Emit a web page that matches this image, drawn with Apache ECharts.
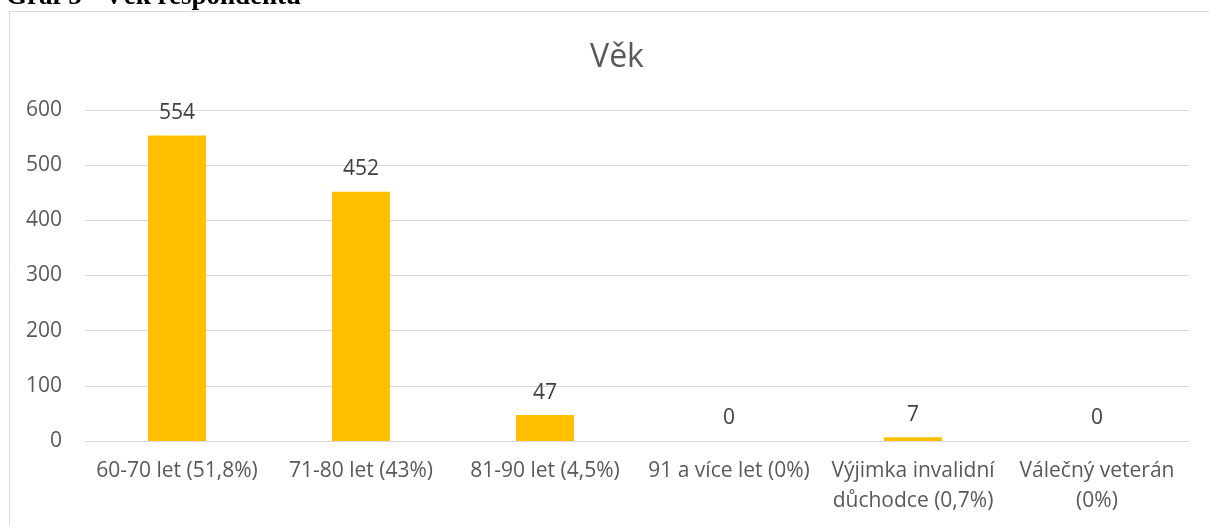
<!DOCTYPE html>
<html>
<head>
<meta charset="utf-8">
<script src="https://cdn.jsdelivr.net/npm/echarts@6/dist/echarts.min.js"></script>
<style>
html,body{margin:0;padding:0;background:#fff;}
#c{width:1209px;height:525px;}
</style>
</head>
<body>
<div id="c"></div>
<script>
const categories = ['60-70 let (51,8%)', '71-80 let (43%)', '81-90 let (4,5%)', '91 a více let (0%)', 'Výjimka invalidní\ndůchodce (0,7%)', 'Válečný veterán\n(0%)'];
const values = [554, 452, 47, 0, 7, 0];
const yTicks = [0, 100, 200, 300, 400, 500, 600];
const chartTitle = 'Věk';
const heading = 'Graf 5 - Věk respondentů';

const FONT = '"Open Sans", sans-serif';
const chart = echarts.init(document.getElementById('c'), null, {renderer: 'canvas'});
chart.setOption({
  animation: false,
  backgroundColor: '#fff',
  title: {
    text: chartTitle,
    left: 612, top: 37,
    textAlign: 'center',
    textStyle: {fontFamily: FONT, fontSize: 32, fontWeight: 'normal', color: '#595959'}
  },
  graphic: [
    {type: 'rect', shape: {x: 9.5, y: 11.5, width: 1220, height: 540}, style: {fill: 'none', stroke: '#d9d9d9', lineWidth: 1}, z: -1},
    {type: 'text', x: 6, y: -16, style: {text: heading, font: 'bold 27px "Liberation Serif", "Times New Roman", serif', fill: '#000'}}
  ],
  grid: {left: 85, right: 20, top: 110, bottom: 84, containLabel: false},
  xAxis: {
    type: 'category',
    data: categories,
    axisLine: {lineStyle: {color: '#d9d9d9', width: 1}},
    axisTick: {show: false},
    axisLabel: {interval: 0, margin: 15, lineHeight: 30, fontFamily: FONT, fontSize: 21, color: '#595959'}
  },
  yAxis: {
    type: 'value',
    min: yTicks[0], max: yTicks[yTicks.length - 1], interval: 100,
    axisLine: {show: false},
    axisTick: {show: false},
    splitLine: {lineStyle: {color: '#d9d9d9', width: 1}},
    axisLabel: {margin: 23, fontFamily: FONT, fontSize: 21, color: '#595959'}
  },
  series: [{
    type: 'bar',
    data: values,
    barWidth: 58,
    itemStyle: {color: '#ffc000'},
    label: {show: true, position: 'top', distance: 12, fontFamily: FONT, fontSize: 21, color: '#404040'}
  }]
});
</script>
</body>
</html>
